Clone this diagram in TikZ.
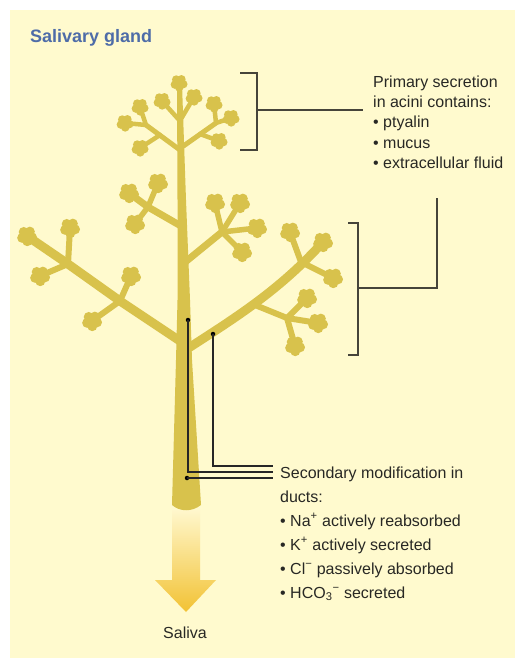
\documentclass[tikz,border=0pt]{standalone}
\usepackage{fontspec}
\setmainfont{Liberation Sans}
\definecolor{panel}{RGB}{255,250,206}
\definecolor{treecol}{RGB}{216,194,76}
\definecolor{titlecol}{RGB}{78,108,168}
\definecolor{txtcol}{RGB}{40,40,36}
\definecolor{bracol}{RGB}{70,68,58}
\definecolor{arrowtop}{RGB}{255,247,204}
\definecolor{arrowbot}{RGB}{242,194,52}
% one acinus: a small lobed blob
\newcommand{\acinus}[2][1]{%
  \begin{scope}[shift={(#2)},scale=#1]
    \fill[treecol] (0,0) circle[radius=7];
    \foreach \a in {15,87,159,231,303}
      \fill[treecol] (\a:5.2) circle[radius=5];
  \end{scope}}
\begin{document}
\begin{tikzpicture}[x=1pt,y=-1pt,
  branch/.style={draw=treecol,line cap=round,line join=round},
  lbl/.style={anchor=base west,inner sep=0pt,font=\fontsize{16}{19}\selectfont,text=txtcol},
  leader/.style={draw=black!85,line width=1.1pt},
  bracket/.style={draw=bracol,line width=1.3pt},
  dotmark/.style={circle,fill=black,inner sep=0pt,minimum size=4.5pt}]
\useasboundingbox (0,0) rectangle (515,658);
\fill[white] (0,0) rectangle (515,658);
\fill[panel] (10,10) rectangle (515,658);

% title
\node[anchor=base west,inner sep=0pt,font=\fontsize{18}{22}\selectfont\bfseries,text=titlecol] (title) at (30,43) {Salivary gland};

% saliva arrow
\shade[top color=arrowtop,bottom color=arrowbot]
  (172,510) -- (200,510) -- (200,580) -- (216,580) -- (186,612) -- (155,580) -- (172,580) -- cycle;

% trunk
\fill[treecol] (177,84) -- (182,84) -- (186,200) -- (190,300) -- (192,360) -- (201,505)
  .. controls (192,512) and (180,512) .. (172,505) -- (176,360) -- (177.5,300) -- (177.5,200) -- cycle;

% lower main branches
\draw[branch,line width=9pt] (183,343) -- (120,301) -- (68,264) -- (27,236);
\draw[branch,line width=9pt] (187,349) .. controls (235,318) and (280,290) .. (323,242);
% lower left twigs
\draw[branch,line width=6pt] (68,264) -- (70,228);
\draw[branch,line width=6pt] (68,264) -- (40,276);
\draw[branch,line width=6pt] (120,301) -- (131,276);
\draw[branch,line width=6pt] (120,301) -- (92,321);
% lower right twigs
\draw[branch,line width=6pt] (301,262) -- (290,232);
\draw[branch,line width=6pt] (301,262) -- (333,278);
\draw[branch,line width=6pt] (255,305) -- (287,318);
\draw[branch,line width=6pt] (287,318) -- (307,298);
\draw[branch,line width=6pt] (287,318) -- (318,323);
\draw[branch,line width=6pt] (287,318) -- (295,346);

% middle branches
\draw[branch,line width=7pt] (181,226) -- (148,207) -- (129,193);
\draw[branch,line width=5.5pt] (148,207) -- (158,183);
\draw[branch,line width=5.5pt] (148,207) -- (135,224);
\draw[branch,line width=7pt] (184,263) -- (222,232);
\draw[branch,line width=5.5pt] (222,232) -- (215,203);
\draw[branch,line width=5.5pt] (222,232) -- (240,203);
\draw[branch,line width=5.5pt] (222,232) -- (257,228);
\draw[branch,line width=5.5pt] (222,232) -- (242,252);

% crown
\draw[branch,line width=5pt] (180,150) -- (146,125);
\draw[branch,line width=4.5pt] (146,125) -- (125,123);
\draw[branch,line width=4.5pt] (146,125) -- (140,107);
\draw[branch,line width=4.5pt] (180,121) -- (162,101);
\draw[branch,line width=4.5pt] (160,135) -- (140,148);
\draw[branch,line width=5pt] (182,147) -- (216,123);
\draw[branch,line width=4.5pt] (216,123) -- (231,118);
\draw[branch,line width=4.5pt] (216,123) -- (214,104);
\draw[branch,line width=4.5pt] (181,119) -- (194,97);
\draw[branch,line width=4.5pt] (200,134) -- (219,141);

% acini of the crown
\foreach \p in {{179,83},{162,101},{140,107},{125,123},{140,148},{194,97},{214,104},{231,118},{219,141}}
  \acinus[0.85]{\p};
% acini of the middle branches
\foreach \p in {{129,193},{158,183},{135,224},{215,203},{240,203},{257,228},{242,252}}
  \acinus[1.0]{\p};
% acini of the lower branches
\foreach \p in {{27,236},{70,228},{40,276},{131,276},{92,321},{290,232},{323,242},{333,278},{307,298},{318,323},{295,346}}
  \acinus[1.0]{\p};

% upper bracket and its text
\coordinate (ubMid) at (257,110);
\coordinate (ubEnd) at (363,110);
\draw[bracket] (240,73) -- (257,73) -- (257,150) -- (240,150);
\draw[bracket] (ubMid) -- (ubEnd);
\node[lbl] (p1) at (373,88) {Primary secretion};
\node[lbl] (p2) at (373,108) {in acini contains:};
\node[lbl] (p3) at (373,128) {\textbullet\ ptyalin};
\node[lbl] (p4) at (373,148) {\textbullet\ mucus};
\node[lbl] (p5) at (373,168) {\textbullet\ extracellular fluid};

% lower bracket, joined up to the text
\coordinate (lbMid) at (358,288);
\coordinate (lbUp) at (437,198);
\draw[bracket] (348,223) -- (358,223) -- (358,355) -- (348,355);
\draw[bracket] (lbMid) -| (lbUp);

% duct leaders
\node[dotmark] (dTrunk) at (188,320) {};
\node[dotmark] (dBranch) at (213,334) {};
\node[dotmark] (dBase) at (187,478) {};
\coordinate (eBranch) at (273,466);
\coordinate (eTrunk) at (273,472);
\coordinate (eBase) at (273,478);
\draw[leader] (dBranch.center) |- (eBranch);
\draw[leader] (dTrunk.center) |- (eTrunk);
\draw[leader] (dBase.center) -- (eBase);

\node[lbl] (s1) at (280,478) {Secondary modification in};
\node[lbl] (s2) at (280,502) {ducts:};
\node[lbl] (s3) at (280,526) {\textbullet\ Na\textsuperscript{+} actively reabsorbed};
\node[lbl] (s4) at (280,550) {\textbullet\ K\textsuperscript{+} actively secreted};
\node[lbl] (s5) at (280,574) {\textbullet\ Cl\textsuperscript{−} passively absorbed};
\node[lbl] (s6) at (280,598) {\textbullet\ HCO\textsubscript{3}\textsuperscript{−} secreted};

% output label
\node[anchor=base,inner sep=0pt,font=\fontsize{16}{19}\selectfont,text=txtcol] (saliva) at (185,638) {Saliva};
\end{tikzpicture}
\end{document}
